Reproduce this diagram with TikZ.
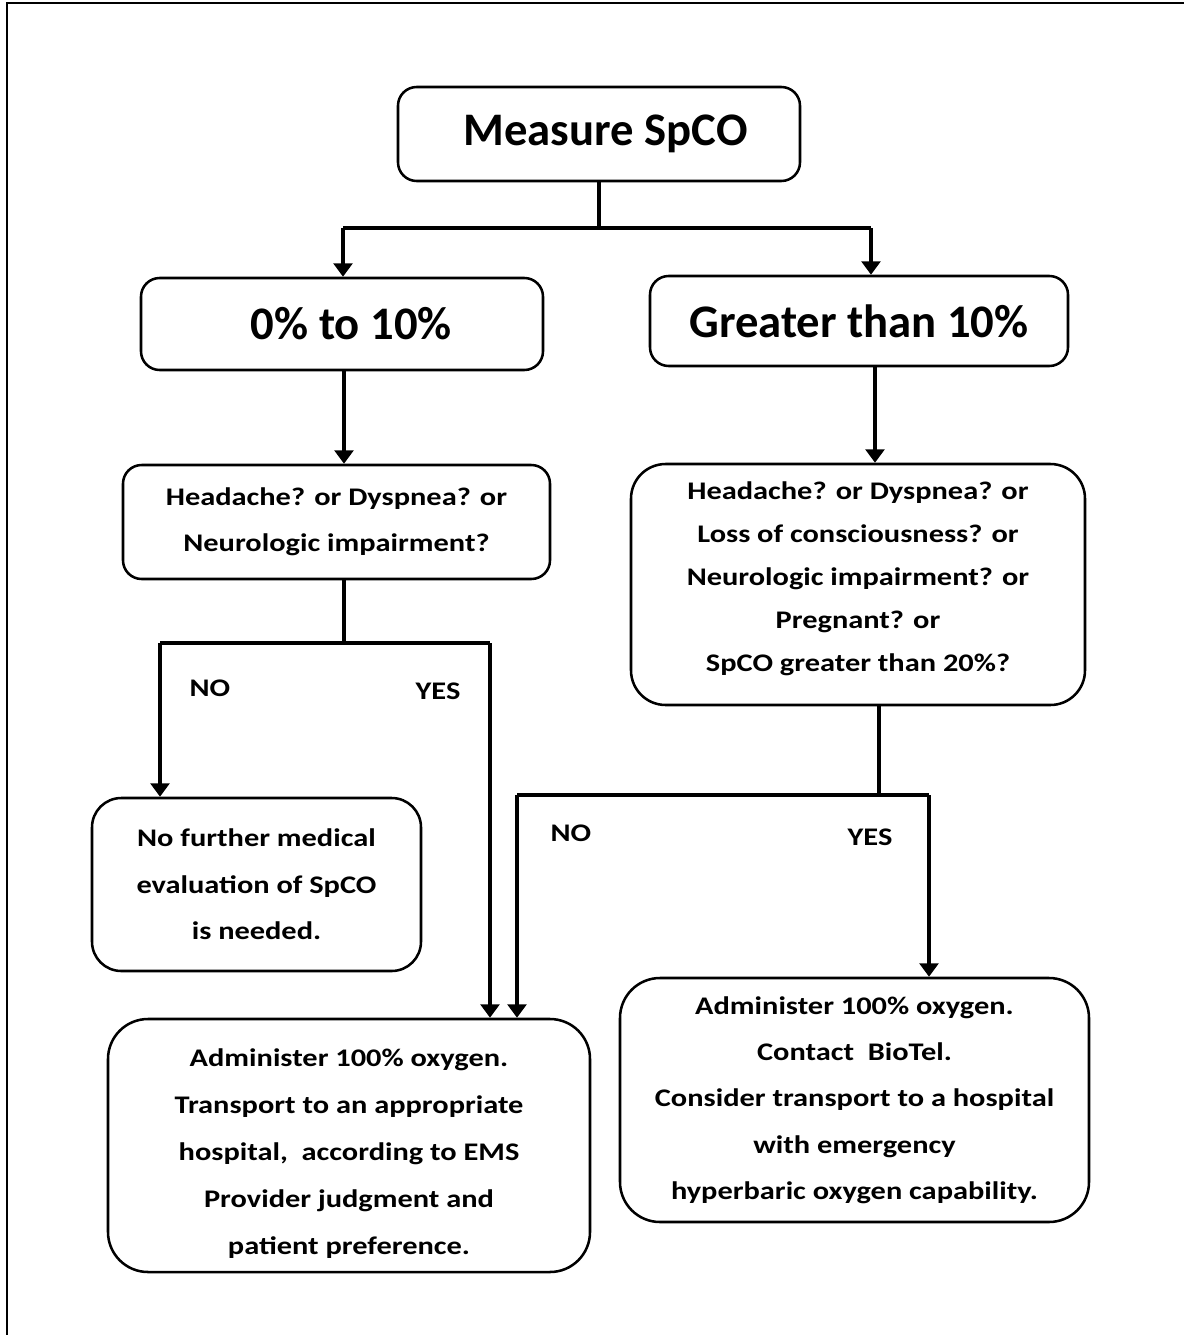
\documentclass[tikz,border=0pt]{standalone}
\usepackage{fontspec}
\setmainfont{Carlito}
\newfontfamily\widefont{Carlito}[FakeStretch=1.2]
\usetikzlibrary{arrows.meta}
\begin{document}
\begin{tikzpicture}[x=0.75pt,y=-0.75pt,
  box/.style={draw, line width=1.9pt, rounded corners=#1, align=center, inner sep=0pt},
  box/.default=14pt,
  title/.style={font=\bfseries\fontsize{35}{40}\selectfont},
  body/.style={font=\widefont\bfseries\fontsize{19}{#1}\selectfont},
  body/.default=34.5,
  conn/.style={line width=2.4pt},
  arr/.style={conn, -{Triangle[width=14pt,length=10pt]}},
  lbl/.style={font=\widefont\bfseries\fontsize{19}{23}\selectfont, inner sep=0pt}]
\useasboundingbox (0,0) rectangle (1184,1335);
% frame (cropped on the right and at the bottom)
\draw[line width=1.5pt] (7,1335) -- (7,3) -- (1184,3);

% boxes
\node[box, title, minimum width=301.5pt, minimum height=70.5pt] (measure) at (599,134) {\hspace{10pt}Measure SpCO};
\node[box, title, minimum width=301.5pt, minimum height=69pt] (low) at (342,324) {\hspace{14pt}0\% to 10\%};
\node[box, title, minimum width=313.5pt, minimum height=67.5pt] (high) at (859,321) {Greater than 10\%};
\node[box, body, minimum width=320.25pt, minimum height=85.5pt] (qlow) at (336.5,522)
  {Headache? or Dyspnea? or\\Neurologic impairment?};
\node[box=26pt, body=32.3, minimum width=340.5pt, minimum height=180.75pt] (qhigh) at (858,584.5)
  {Headache? or Dyspnea? or\\Loss of consciousness? or\\Neurologic impairment? or\\Pregnant? or\\SpCO greater than 20\%?\rule[-12pt]{0pt}{0pt}};
\node[box=22pt, body=35, minimum width=246.75pt, minimum height=129.75pt] (nofurther) at (256.5,884.5)
  {No further medical\\evaluation of SpCO\\is needed.};
\node[box=30pt, body=35.2, minimum width=361.5pt, minimum height=189.75pt] (transport) at (349,1145.5)
  {\rule{0pt}{25pt}Administer 100\% oxygen.\\Transport to an appropriate\\hospital,~~according to EMS\\Provider judgment and\\patient preference.};
\node[box=30pt, body=34.7, minimum width=351.75pt, minimum height=183pt] (hyperbaric) at (854.5,1100)
  {Administer 100\% oxygen.\\Contact~~BioTel.\\Consider transport to a hospital\\with emergency\\hyperbaric oxygen capability.};

% branch points
\coordinate (s1L) at (343,228);
\coordinate (s1R) at (871,228);
\coordinate (s2L) at (160,643);
\coordinate (s2R) at (490,643);
\coordinate (s3L) at (517,795);
\coordinate (s3R) at (929,795);

% first split
\draw[conn] (measure.south) -- (measure.south |- s1L);
\draw[conn] (s1L) -- (s1R);
\draw[arr] (s1L) -- (s1L |- low.north);
\draw[arr] (s1R) -- (s1R |- high.north);

% severity to symptom questions
\draw[arr] (low.south -| 344,0) -- (344,0 |- qlow.north);
\draw[arr] (high.south -| 875,0) -- (875,0 |- qhigh.north);

% low branch decision
\draw[conn] (qlow.south -| 344,0) -- (344,643);
\draw[conn] (s2L) -- (s2R);
\draw[arr] (s2L) -- (s2L |- nofurther.north);
\draw[arr] (s2R) -- (s2R |- transport.north);

% high branch decision
\draw[conn] (qhigh.south -| 879,0) -- (879,795);
\draw[conn] (s3L) -- (s3R);
\draw[arr] (s3L) -- (s3L |- transport.north);
\draw[arr] (s3R) -- (s3R |- hyperbaric.north);

% branch labels
\node[lbl] (no1) at (210,688) {NO};
\node[lbl] (yes1) at (438,691) {YES};
\node[lbl] (no2) at (571,833) {NO};
\node[lbl] (yes2) at (870,837) {YES};
\end{tikzpicture}
\end{document}
